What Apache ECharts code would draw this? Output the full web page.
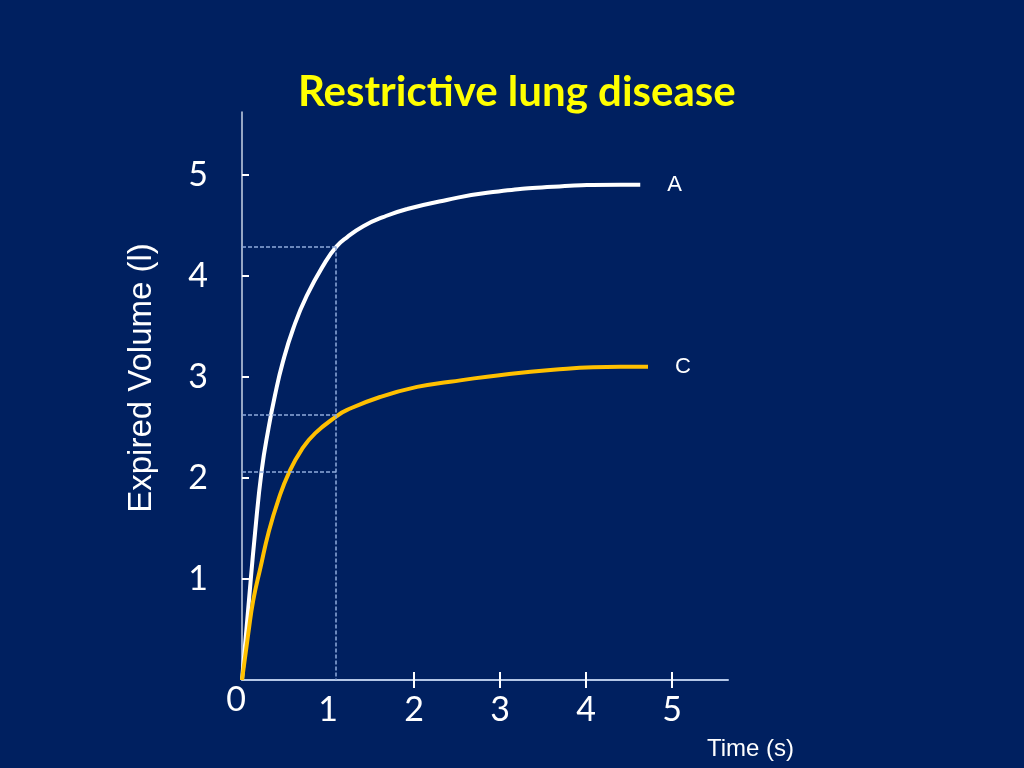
<!DOCTYPE html>
<html>
<head>
<meta charset="utf-8">
<title>Restrictive lung disease</title>
<script src="https://cdn.jsdelivr.net/npm/echarts@6/dist/echarts.min.js"></script>
<style>
  html, body { margin: 0; padding: 0; background: #002060; }
  #chart { width: 1024px; height: 768px; }
</style>
</head>
<body>
<div id="chart"></div>
<script>
// curve A (normal) - time in s, expired volume in l
var timeA = [0, 0.081, 0.151, 0.23, 0.306, 0.384, 0.473, 0.597, 0.752, 0.965, 1.1, 1.22, 1.41, 1.64, 1.92, 2.38, 2.85, 3.62, 4.4, 4.63];
var volA  = [0, 0.79, 1.45, 2.08, 2.48, 2.82, 3.14, 3.48, 3.8, 4.13, 4.29, 4.38, 4.49, 4.58, 4.66, 4.75, 4.82, 4.88, 4.9, 4.9];
// curve C (restrictive)
var timeC = [0, 0.073, 0.131, 0.217, 0.306, 0.422, 0.55, 0.694, 0.849, 1.101, 1.217, 1.605, 2.035, 2.42, 2.85, 3.62, 4.4, 4.72];
var volC  = [0, 0.46, 0.79, 1.12, 1.45, 1.78, 2.06, 2.28, 2.44, 2.61, 2.67, 2.8, 2.9, 2.95, 3.0, 3.07, 3.1, 3.1];
// dashed guides
var guideTime = 1.093;
var guideLevels = [4.29, 2.62, 2.06];
var guideTop = 4.29;

var xLabels = [0, 1, 2, 3, 4, 5];
var xTicks = [2, 3, 4, 5];
var yTicks = [1, 2, 3, 4, 5];

function pairs(xs, ys) {
  var out = [];
  for (var i = 0; i < xs.length; i++) out.push([xs[i], ys[i]]);
  return out;
}

var guideLines = [];
for (var i = 0; i < guideLevels.length; i++) {
  guideLines.push([{ coord: [0, guideLevels[i]] }, { coord: [guideTime, guideLevels[i]] }]);
}
guideLines.push([{ coord: [guideTime, guideTop] }, { coord: [guideTime, 0] }]);

var chart = echarts.init(document.getElementById('chart'));
var option = {
  backgroundColor: '#002060',
  animation: false,
  title: {
    text: 'Restrictive lung disease',
    left: 298,
    top: 71,
    padding: 0,
    textStyle: { color: '#FFFF00', fontSize: 42, fontWeight: 'bold', fontFamily: 'Lato' }
  },
  grid: { left: 242, right: 296, top: 112, bottom: 88 },
  xAxis: [{
    type: 'value',
    min: 0,
    max: 5.65,
    splitLine: { show: false },
    axisLine: { lineStyle: { color: '#B4C7E7', width: 2 } },
    axisTick: { show: true, inside: true, length: 8, customValues: xTicks, lineStyle: { color: '#FFFFFF', width: 2 } },
    axisLabel: {
      customValues: xLabels,
      margin: 3,
      formatter: function (v) { return v === 0 ? '{z|0}' : '{n|' + v + '}'; },
      rich: {
        z: { color: '#FFFFFF', fontSize: 34, fontFamily: 'Lato', padding: [0, 12, 0, 0] },
        n: { color: '#FFFFFF', fontSize: 34, fontFamily: 'Lato', padding: [10, 0, 0, 0] }
      }
    },
    name: 'Time (s)',
    nameLocation: 'end',
    nameGap: -21,
    nameTextStyle: { color: '#FFFFFF', fontSize: 24, fontFamily: 'Liberation Sans', align: 'left', verticalAlign: 'top', padding: [57, 0, 0, 0] }
  }, {
    type: 'value',
    position: 'bottom',
    min: 0,
    max: 5.65,
    splitLine: { show: false },
    axisLine: { show: false },
    axisLabel: { show: false },
    axisTick: { show: true, inside: false, length: 8, customValues: xTicks, lineStyle: { color: '#FFFFFF', width: 2 } }
  }],
  yAxis: {
    type: 'value',
    min: 0,
    max: 5.62,
    splitLine: { show: false },
    axisLine: { show: true, lineStyle: { color: '#C9D3E6', width: 1.5 } },
    axisTick: { show: true, inside: true, length: 7, customValues: yTicks, lineStyle: { color: '#FFFFFF', width: 2 } },
    axisLabel: { customValues: yTicks, margin: 34, color: '#FFFFFF', fontSize: 34, fontFamily: 'Lato' },
    name: 'Expired Volume (l)',
    nameLocation: 'middle',
    nameRotate: 90,
    nameGap: 84,
    nameTextStyle: { color: '#FFFFFF', fontSize: 33, fontFamily: 'Liberation Sans', padding: [0, 0, 0, 36] }
  },
  series: [{
    name: 'A',
    type: 'line',
    data: pairs(timeA, volA),
    smooth: true,
    showSymbol: false,
    lineStyle: { color: '#FFFFFF', width: 4 },
    endLabel: { show: true, formatter: 'A', distance: 27, color: '#FFFFFF', fontSize: 22, fontFamily: 'Liberation Sans' },
    z: 3
  }, {
    name: 'C',
    type: 'line',
    data: pairs(timeC, volC),
    smooth: true,
    showSymbol: false,
    lineStyle: { color: '#FFC000', width: 4 },
    endLabel: { show: true, formatter: 'C', distance: 27, color: '#FFFFFF', fontSize: 22, fontFamily: 'Liberation Sans' },
    z: 3
  }, {
    name: 'guides',
    type: 'line',
    data: [],
    silent: true,
    z: 1,
    markLine: {
      silent: true,
      symbol: ['none', 'none'],
      label: { show: false },
      lineStyle: { color: '#8FAADC', width: 1.5, type: [4, 2] },
      data: guideLines
    }
  }]
};
chart.setOption(option);
</script>
</body>
</html>
